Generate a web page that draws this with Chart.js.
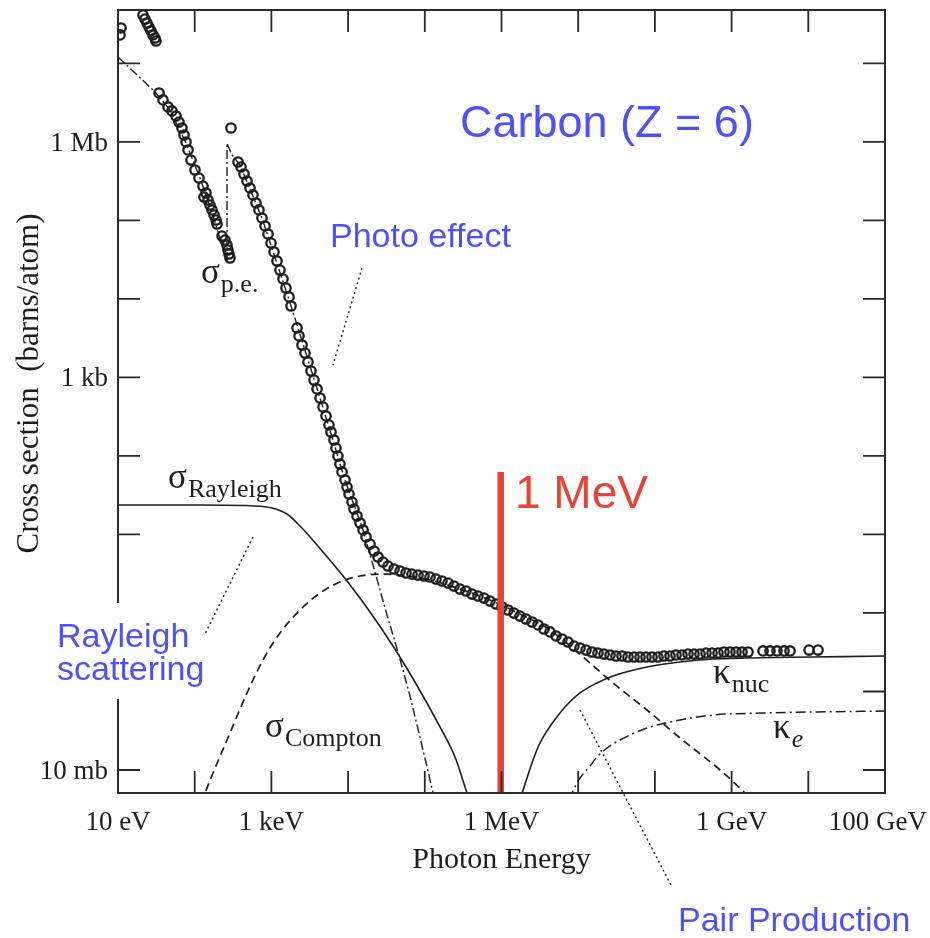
<!DOCTYPE html>
<html><head><meta charset="utf-8">
<script src="https://cdn.jsdelivr.net/npm/chart.js@4.4.1/dist/chart.umd.min.js"></script>
<style>html,body{margin:0;padding:0;background:#fff;}canvas{display:block;}</style>
</head><body>
<canvas id="c" width="930" height="938"></canvas>
<script>
// ---- axis description ----
const xTickValues = [1e1, 1e3, 1e6, 1e9, 1e11];
const xTickLabels = ['10 eV', '1 keV', '1 MeV', '1 GeV', '100 GeV'];
const yTickValues = [1e-2, 1e3, 1e6];
const yTickLabels = ['10 mb', '1 kb', '1 Mb'];
const xTitle = 'Photon Energy';
const yTitle = 'Cross section  (barns/atom)';

// ---- data: log10(E / eV) and log10(sigma / barn) ----
// total measured cross section (open circles)
const totalLogE = [1.026,1.039,1.326,1.352,1.378,1.404,1.430,1.456,1.482,1.495,
 1.535,1.587,1.652,1.704,1.756,1.795,1.834,1.861,1.887,1.913,1.952,2.004,2.056,2.108,2.121,2.147,2.173,2.200,2.226,2.252,2.278,2.291,
 2.356,2.395,2.421,2.434,2.447,2.460,
 2.473,
 2.565,2.604,2.643,2.682,2.721,2.760,2.799,2.838,2.877,2.917,2.956,2.995,3.034,3.073,3.112,3.151,3.190,3.230,3.256,
 3.334,3.360,3.399,3.438,3.477,3.516,3.555,3.595,3.634,3.673,3.712,3.751,3.777,3.816,3.842,3.868,3.894,3.921,3.960,3.986,4.012,
 4.051,4.077,4.116,4.156,4.195,4.234,4.286,4.338,4.390,4.455,4.520,4.599,4.677,4.755,4.833,4.911,4.990,5.068,5.146,5.224,5.303,
 5.381,5.459,5.537,5.616,5.694,5.772,5.850,5.928,6.007,6.085,6.163,6.241,6.320,6.398,6.476,6.554,6.632,6.711,6.789,6.867,6.945,
 7.024,7.102,7.180,7.258,7.337,7.415,7.493,7.571,7.649,7.728,7.806,7.884,7.962,8.040,8.119,8.197,8.275,8.353,8.432,8.510,8.588,
 8.666,8.745,8.823,8.901,8.979,9.058,9.136,9.214,9.410,9.501,9.592,9.683,9.762,10.010,10.127];
const totalLogSigma = [7.362,7.451,7.616,7.565,7.514,7.463,7.413,7.362,7.323,7.285,
 6.623,6.534,6.445,6.394,6.330,6.253,6.177,6.088,5.999,5.897,5.769,5.642,5.540,5.438,5.298,5.349,5.260,5.196,5.133,5.069,5.005,4.954,
 4.801,4.750,4.687,4.623,4.572,4.521,
 6.177,
 5.744,5.680,5.591,5.502,5.413,5.324,5.222,5.133,5.031,4.929,4.827,4.712,4.598,4.483,4.368,4.254,4.139,4.025,3.910,
 3.630,3.528,3.413,3.311,3.197,3.082,2.967,2.853,2.738,2.623,2.509,2.394,2.305,2.203,2.101,1.999,1.897,1.796,1.694,1.604,1.515,
 1.413,1.324,1.235,1.146,1.057,0.968,0.878,0.789,0.713,0.649,0.598,0.560,0.534,0.509,0.496,0.483,0.471,0.458,0.432,0.407,0.381,
 0.343,0.305,0.280,0.241,0.216,0.190,0.152,0.114,0.076,0.038,-0.001,-0.039,-0.077,-0.115,-0.153,-0.204,-0.242,-0.293,-0.332,-0.370,-0.421,
 -0.446,-0.472,-0.497,-0.510,-0.523,-0.535,-0.548,-0.548,-0.561,-0.561,-0.561,-0.561,-0.561,-0.561,-0.548,-0.548,-0.535,-0.535,-0.523,-0.523,-0.523,
 -0.510,-0.510,-0.510,-0.497,-0.497,-0.497,-0.497,-0.497,-0.484,-0.484,-0.484,-0.484,-0.484,-0.472,-0.472];

// photoelectric effect (dash-dot)
const photoLogE = [1.0,1.222,1.482,1.678,1.887,2.069,2.265,2.421,2.421,2.486,2.591,2.877,3.256,3.634,3.960,4.195,4.260,4.325,4.416,4.507,4.612,4.716,4.820,4.924,5.029,5.107,5.146];
const photoLogSigma = [7.081,6.878,6.636,6.406,5.986,5.540,4.980,4.470,5.986,5.833,5.706,5.031,3.910,2.738,1.694,1.057,0.827,0.611,0.293,-0.026,-0.370,-0.726,-1.109,-1.529,-1.962,-2.293,-2.446];
// Rayleigh (coherent) scattering (solid)
const rayleighLogE = [1.0,2.069,2.786,3.008,3.203,3.373,3.673,3.986,4.286,4.585,4.872,5.198,5.394,5.550,5.603];
const rayleighLogSigma = [1.375,1.375,1.363,1.337,1.261,1.108,0.777,0.407,0.012,-0.421,-0.879,-1.452,-1.835,-2.293,-2.446];
// Compton scattering (dashed)
const comptonLogE = [2.082,2.239,2.460,2.682,2.890,3.112,3.373,3.634,3.894,4.156,4.416,4.677,5.068,5.459,5.850,6.241,6.632,7.063,7.454,7.897,8.327,8.849,9.175,9.240];
const comptonLogSigma = [-2.420,-2.038,-1.529,-1.019,-0.599,-0.255,0.038,0.254,0.394,0.471,0.496,0.483,0.420,0.305,0.165,-0.013,-0.217,-0.561,-0.892,-1.236,-1.592,-2.000,-2.293,-2.357];
// pair production, nuclear field (solid)
const knucLogE = [6.228,6.333,6.411,6.502,6.593,6.711,6.828,7.024,7.245,7.454,7.897,8.327,8.758,9.201,10.062,11.0];
const knucLogSigma = [-2.420,-2.102,-1.873,-1.656,-1.503,-1.338,-1.198,-1.019,-0.892,-0.803,-0.688,-0.624,-0.586,-0.573,-0.561,-0.548];
// pair production, electron field (dash-dot)
const keLogE = [6.880,6.971,7.024,7.154,7.245,7.415,7.545,7.897,8.327,8.758,9.410,10.062,11.0];
const keLogSigma = [-2.382,-2.191,-2.102,-1.949,-1.834,-1.694,-1.618,-1.465,-1.363,-1.300,-1.274,-1.261,-1.249];
// 1 MeV marker (red)
const markerLogE = [5.99, 5.99];
const markerLogSigma = [1.796, -2.293];
// leader lines of the blue labels (dotted)
const photoLeaderLogE = [4.181, 3.803];
const photoLeaderLogSigma = [4.394, 3.158];
const rayleighLeaderLogE = [2.760, 2.095];
const rayleighLeaderLogSigma = [0.968, -0.344];
const pairLeaderLogE = [7.024, 8.223];
const pairLeaderLogSigma = [-1.236, -3.490];

// ---- styling / layout ----
const INK = '#1e1e1e';
const BLUE = 'rgb(80,80,248)';
const RED = '#ea4335';
const SERIF = '"Liberation Serif", "Times New Roman", serif';
const SANS = '"Liberation Sans", Arial, sans-serif';

const pts = (le, ls) => le.map((v, i) => ({x: Math.pow(10, v), y: Math.pow(10, ls[i])}));

const blueNotes = [
  {text: 'Carbon (Z = 6)', le: 5.459, ls: 6.062, size: 45},
  {text: 'Photo effect', le: 3.764, ls: 4.661, size: 34},
  {text: 'Rayleigh', le: 0.205, ls: -0.434, size: 34, box: true},
  {text: 'scattering', le: 0.205, ls: -0.854, size: 34},
  {text: 'Pair Production', le: 8.301, ls: -4.051, size: 34}
];
const redNote = {text: '1 MeV', le: 6.176, ls: 1.337, size: 46};
const symbolNotes = [
  {main: 'σ', sub: 'p.e.', le: 2.082, ls: 4.203},
  {main: 'σ', sub: 'Rayleigh', le: 1.652, ls: 1.592},
  {main: 'σ', sub: 'Compton', le: 2.917, ls: -1.580},
  {main: 'κ', sub: 'nuc', le: 8.758, ls: -0.892},
  {main: 'κ', sub: 'e', le: 9.540, ls: -1.593, italic: true}
];

const lineDs = (label, data, opts) => Object.assign({
  label, data, showLine: true, pointRadius: 0, borderColor: INK, borderWidth: 1.5,
  backgroundColor: 'transparent', fill: false, clip: 0
}, opts);

const decor = {
  id: 'decor',
  afterDatasetsDraw(chart) {
    const {ctx, chartArea: a, scales: {x, y}} = chart;
    const X = le => x.getPixelForValue(Math.pow(10, le));
    const Y = ls => y.getPixelForValue(Math.pow(10, ls));
    ctx.save();
    // frame
    ctx.strokeStyle = '#2a2a2a';
    ctx.lineWidth = 2;
    ctx.strokeRect(a.left, a.top, a.right - a.left, a.bottom - a.top);
    // inward decade ticks on all four sides
    ctx.lineWidth = 1.8;
    ctx.beginPath();
    const xe0 = Math.ceil(Math.log10(x.min)), xe1 = Math.floor(Math.log10(x.max));
    for (let e = xe0; e <= xe1; e++) {
      const px = x.getPixelForValue(Math.pow(10, e));
      ctx.moveTo(px, a.bottom); ctx.lineTo(px, a.bottom - 22);
      ctx.moveTo(px, a.top); ctx.lineTo(px, a.top + 22);
    }
    const ye0 = Math.ceil(Math.log10(y.min)), ye1 = Math.floor(Math.log10(y.max));
    for (let e = ye0; e <= ye1; e++) {
      const py = y.getPixelForValue(Math.pow(10, e));
      ctx.moveTo(a.left, py); ctx.lineTo(a.left + 22, py);
      ctx.moveTo(a.right, py); ctx.lineTo(a.right - 22, py);
    }
    ctx.stroke();

    // tick labels
    ctx.fillStyle = INK;
    ctx.font = '27px ' + SERIF;
    ctx.textBaseline = 'alphabetic';
    ctx.textAlign = 'left';
    xTickValues.forEach((v, i) => {
      const w = ctx.measureText(xTickLabels[i]).width;
      let left = x.getPixelForValue(v) - w / 2;
      left = Math.min(left, chart.width - 3 - w);
      ctx.fillText(xTickLabels[i], left, a.bottom + 37);
    });
    ctx.textAlign = 'right';
    yTickValues.forEach((v, i) => {
      ctx.fillText(yTickLabels[i], a.left - 10, y.getPixelForValue(v) + 9);
    });
    // axis titles
    ctx.font = '30px ' + SERIF;
    ctx.textAlign = 'center';
    ctx.fillText(xTitle, (a.left + a.right) / 2, a.bottom + 75);
    ctx.save();
    ctx.translate(38, (a.top + a.bottom) / 2 - 18);
    ctx.rotate(-Math.PI / 2);
    ctx.font = '31px ' + SERIF;
    ctx.fillText(yTitle, 0, 0);
    ctx.restore();

    // blue notes (the Rayleigh label sits on a white box that hides part of the frame)
    ctx.textAlign = 'left';
    blueNotes.forEach(n => {
      if (n.box) {
        ctx.fillStyle = '#fff';
        ctx.fillRect(X(n.le) - 5, Y(n.ls) - 44, 153, 96);
      }
    });
    blueNotes.forEach(n => {
      ctx.fillStyle = BLUE;
      ctx.font = n.size + 'px ' + SANS;
      ctx.fillText(n.text, X(n.le), Y(n.ls));
    });
    ctx.fillStyle = RED;
    ctx.font = redNote.size + 'px ' + SANS;
    ctx.fillText(redNote.text, X(redNote.le), Y(redNote.ls));

    // symbol labels with subscripts
    ctx.fillStyle = INK;
    symbolNotes.forEach(n => {
      const px = X(n.le), py = Y(n.ls);
      ctx.font = '35px ' + SERIF;
      ctx.fillText(n.main, px, py);
      const w = ctx.measureText(n.main).width;
      ctx.font = (n.italic ? 'italic ' : '') + '26px ' + SERIF;
      ctx.fillText(n.sub, px + w + 1, py + 9);
    });
    ctx.restore();
  }
};

new Chart(document.getElementById('c'), {
  type: 'scatter',
  data: {
    datasets: [
      lineDs('1 MeV', pts(markerLogE, markerLogSigma), {borderColor: RED, borderWidth: 6.5, borderCapStyle: 'butt'}),
      {label: 'total', data: pts(totalLogE, totalLogSigma), showLine: false, pointStyle: 'circle',
       pointRadius: 4.7, pointBorderWidth: 2.3, borderColor: INK, backgroundColor: 'rgba(0,0,0,0)'},
      lineDs('σ p.e.', pts(photoLogE, photoLogSigma), {borderDash: [9, 3, 2, 3], borderWidth: 1.4}),
      lineDs('σ Rayleigh', pts(rayleighLogE, rayleighLogSigma), {cubicInterpolationMode: 'monotone', borderWidth: 1.6}),
      lineDs('σ Compton', pts(comptonLogE, comptonLogSigma), {borderDash: [8, 5], cubicInterpolationMode: 'monotone', borderWidth: 1.7}),
      lineDs('κ nuc', pts(knucLogE, knucLogSigma), {cubicInterpolationMode: 'monotone', borderWidth: 1.6}),
      lineDs('κ e', pts(keLogE, keLogSigma), {borderDash: [10, 4, 2, 4], cubicInterpolationMode: 'monotone', borderWidth: 1.5}),
      lineDs('photo leader', pts(photoLeaderLogE, photoLeaderLogSigma), {borderDash: [2, 3], borderWidth: 1.4, clip: false}),
      lineDs('rayleigh leader', pts(rayleighLeaderLogE, rayleighLeaderLogSigma), {borderDash: [2, 3], borderWidth: 1.4, clip: false}),
      lineDs('pair leader', pts(pairLeaderLogE, pairLeaderLogSigma), {borderDash: [2, 3], borderWidth: 1.4, clip: false})
    ]
  },
  options: {
    responsive: false,
    animation: false,
    events: [],
    layout: {padding: {top: 10, right: 45, bottom: 0, left: 0}},
    plugins: {legend: {display: false}, tooltip: {enabled: false}},
    scales: {
      x: {type: 'logarithmic', min: 1e1, max: 1e11, bounds: 'data',
          grid: {display: false}, border: {display: false}, ticks: {display: false},
          afterFit(s) { s.height = 145; }},
      y: {type: 'logarithmic', min: Math.pow(10, -2.293), max: Math.pow(10, 7.68), bounds: 'data',
          grid: {display: false}, border: {display: false}, ticks: {display: false},
          afterFit(s) { s.width = 118; }}
    }
  },
  plugins: [decor]
});
</script>
</body></html>
